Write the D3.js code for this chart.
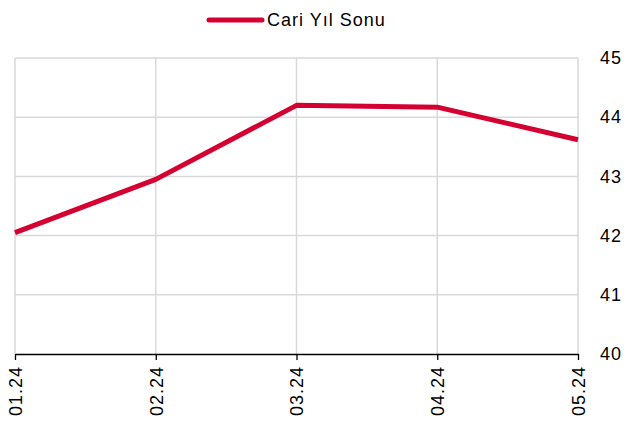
<!DOCTYPE html>
<html><head><meta charset="utf-8">
<script src="https://cdn.jsdelivr.net/npm/d3@7"></script>
<style>body{margin:0;background:#fff}svg{display:block;font-family:"Liberation Sans",Arial,sans-serif}</style>
</head><body><svg id="c" width="626" height="426"></svg>
<script>
const categories = ["01.24","02.24","03.24","04.24","05.24"];
const values = [42.05, 42.95, 44.2, 44.17, 43.62];
const yTicks = [40,41,42,43,44,45];
const seriesName = "Cari Yıl Sonu";

const svg = d3.select("#c");
const x = d3.scalePoint().domain(categories).range([15, 578]);
const y = d3.scaleLinear().domain([40,45]).range([354, 58]);
const grid = "#d9d9d9";
const fs = 18, ls = 1;

// horizontal gridlines
svg.append("g").selectAll("line").data(yTicks.filter(d=>d>40)).join("line")
  .attr("x1",15).attr("x2",578).attr("y1",d=>y(d)).attr("y2",d=>y(d))
  .attr("stroke",grid).attr("stroke-width",1.5);
// vertical gridlines
svg.append("g").selectAll("line").data(categories).join("line")
  .attr("x1",d=>x(d)).attr("x2",d=>x(d)).attr("y1",y(45)).attr("y2",y(40))
  .attr("stroke",grid).attr("stroke-width",1.5);

// bottom axis
const xAxis = svg.append("g").attr("transform",`translate(0,${y(40)})`)
  .call(d3.axisBottom(x).tickSize(6).tickSizeOuter(0));
xAxis.select(".domain").attr("stroke","#000").attr("stroke-width",1.3);
xAxis.selectAll(".tick line").attr("stroke","#000").attr("stroke-width",1.3);
xAxis.selectAll(".tick text").attr("font-size",fs).attr("letter-spacing",ls).attr("fill","#000")
  .attr("transform","rotate(-90)").attr("text-anchor","end")
  .attr("x",-12).attr("y",0).attr("dy","0.35em");

// right axis labels
const yAxis = svg.append("g").attr("transform",`translate(${578},0)`)
  .call(d3.axisRight(y).tickValues(yTicks).tickFormat(d3.format("d")).tickSize(0).tickPadding(22));
yAxis.select(".domain").remove();
yAxis.selectAll(".tick text").attr("font-size",fs).attr("letter-spacing",ls).attr("fill","#000");

// line
svg.append("path").datum(values)
  .attr("d", d3.line().x((d,i)=>x(categories[i])).y(d=>y(d)))
  .attr("fill","none").attr("stroke","#d50032").attr("stroke-width",5)
  .attr("stroke-linejoin","round");

// legend
svg.append("line").attr("x1",209).attr("x2",262).attr("y1",20).attr("y2",20)
  .attr("stroke","#d50032").attr("stroke-width",5).attr("stroke-linecap","round");
svg.append("text").attr("x",267).attr("y",20).attr("dy","0.35em")
  .attr("font-size",fs).attr("letter-spacing",ls).attr("fill","#000").text(seriesName);
</script></body></html>
